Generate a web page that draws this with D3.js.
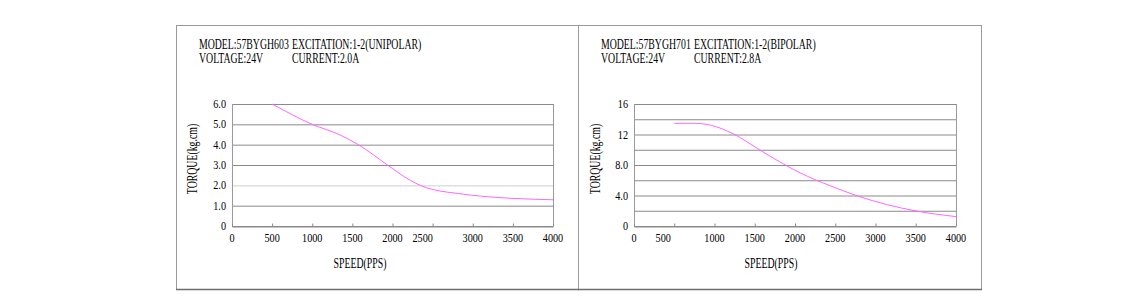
<!DOCTYPE html>
<html>
<head>
<meta charset="utf-8">
<script src="https://cdn.jsdelivr.net/npm/d3@7"></script>
<style>
  html, body { margin: 0; padding: 0; background: #fff; }
  svg { display: block; }
</style>
</head>
<body>
<div id="chart"></div>
<script>
// chart data
const speedTicks = [0, 500, 1000, 1500, 2000, 2500, 3000, 3500, 4000]

const leftSpeed = [500, 1000, 1346, 1574, 1948, 2177, 2364, 2592, 2820, 2970, 3250, 4000]
const leftTorque = [6.0, 5.0, 4.48, 4.0, 2.97, 2.35, 1.97, 1.72, 1.6, 1.52, 1.42, 1.29]
const leftYTicks = [0, 1, 2, 3, 4, 5, 6]
const leftYLabels = ['0', '1.0', '2.0', '3.0', '4.0', '5.0', '6.0']

const rightSpeed = [500, 750, 960, 1231, 1563, 1896, 2248, 2435, 2780, 3490, 4000]
const rightTorque = [13.47, 13.47, 13.2, 12.1, 9.97, 7.9, 6.08, 5.29, 3.93, 2.0, 1.23]
const rightYTicks = [0, 2, 4, 6, 8, 10, 12, 14, 16]
const rightYLabels = ['0', '', '4.0', '', '8.0', '', '12', '', '16']

const panels = [
  {
    box: [176, 25, 402, 264],
    plot: [232, 104, 321, 122],
    yMax: 6,
    yTicks: leftYTicks,
    yLabels: leftYLabels,
    speed: leftSpeed,
    torque: leftTorque,
    head1: ['MODEL:57BYGH603', 'EXCITATION:1-2(UNIPOLAR)'],
    head2: ['VOLTAGE:24V', 'CURRENT:2.0A'],
    headX: [199, 292],
    shifted: { 2500: -10 },
    lightGrid: 2,
    yTitleX: 197,
    xTitleX: 360
  },
  {
    box: [578, 25, 403, 264],
    plot: [634, 104, 322, 122],
    yMax: 16,
    yTicks: rightYTicks,
    yLabels: rightYLabels,
    speed: rightSpeed,
    torque: rightTorque,
    head1: ['MODEL:57BYGH701', 'EXCITATION:1-2(BIPOLAR)'],
    head2: ['VOLTAGE:24V', 'CURRENT:2.8A'],
    headX: [601, 694],
    shifted: { 500: -11 },
    lightGrid: null,
    yTitleX: 600,
    xTitleX: 771
  }
]

const FONT = '"Liberation Serif", "DejaVu Serif", serif'
const CURVE = '#ff66ff'

const svg = d3.select('#chart').append('svg')
  .attr('width', 1142)
  .attr('height', 297)

// condensed text: scale horizontally around its anchor point
function condText(g, x, y, str, size, sx, anchor) {
  return g.append('text')
    .attr('transform', `translate(${x},${y}) scale(${sx},1)`)
    .attr('text-anchor', anchor || 'start')
    .attr('font-family', FONT)
    .attr('font-size', size)
    .attr('fill', '#000')
    .text(str)
}

panels.forEach(p => {
  const g = svg.append('g')
  const [bx, by, bw, bh] = p.box
  const [px, py, pw, ph] = p.plot

  g.append('rect')
    .attr('x', bx + 0.5).attr('y', by + 0.5)
    .attr('width', bw).attr('height', bh)
    .attr('fill', 'none').attr('stroke', '#9a9a9a')
  g.append('line')
    .attr('x1', bx).attr('x2', bx + bw + 1)
    .attr('y1', by + bh + 0.5).attr('y2', by + bh + 0.5)
    .attr('stroke', '#6e6e6e').attr('stroke-width', 1.5)

  condText(g, p.headX[0], 49, p.head1[0], 14, 0.7)
  condText(g, p.headX[1], 49, p.head1[1], 14, 0.7)
  condText(g, p.headX[0], 63, p.head2[0], 14, 0.7)
  condText(g, p.headX[1], 63, p.head2[1], 14, 0.7)

  const x = d3.scaleLinear().domain([0, 4000]).range([px, px + pw])
  const y = d3.scaleLinear().domain([0, p.yMax]).range([py + ph, py])

  // horizontal gridlines
  const grid = g.append('g')
    .attr('transform', `translate(${px},0)`)
    .call(d3.axisLeft(y).tickValues(p.yTicks).tickSize(-pw).tickFormat(''))
  grid.select('.domain').remove()
  grid.selectAll('.tick line')
    .attr('stroke', d => d === p.lightGrid ? '#cfcfcf' : '#8a8a8a')

  // y labels
  p.yTicks.forEach((t, i) => {
    const lbl = p.yLabels[i]
    if (!lbl) return
    condText(g, px - 6, y(t) + 4, lbl, 12, 0.85, 'end')
  })

  // frame
  g.append('line')
    .attr('x1', px + 0.5).attr('x2', px + 0.5)
    .attr('y1', py).attr('y2', py + ph)
    .attr('stroke', '#9a9a9a')
  g.append('line')
    .attr('x1', px + pw + 0.5).attr('x2', px + pw + 0.5)
    .attr('y1', py).attr('y2', py + ph)
    .attr('stroke', '#9a9a9a')

  // x axis with inward ticks
  const xa = g.append('g')
    .attr('transform', `translate(0,${py + ph + 0.5})`)
    .call(d3.axisBottom(x).tickValues(speedTicks).tickSizeInner(-3).tickSizeOuter(0).tickFormat(''))
  xa.select('.domain').attr('stroke', '#8a8a8a')
  xa.selectAll('.tick line').attr('stroke', '#8a8a8a')

  speedTicks.forEach(t => {
    const dx = p.shifted[t] || 0
    condText(g, x(t) + dx, 242, String(t), 12, 0.85, 'middle')
  })

  condText(g, p.xTitleX, 268, 'SPEED(PPS)', 14, 0.7, 'middle')

  g.append('text')
    .attr('transform', `translate(${p.yTitleX},${py + ph / 2 - 6}) rotate(-90) scale(0.7,1)`)
    .attr('text-anchor', 'middle')
    .attr('font-family', FONT)
    .attr('font-size', 14)
    .attr('fill', '#000')
    .text('TORQUE(kg.cm)')

  const line = d3.line()
    .x((d, i) => x(p.speed[i]))
    .y(d => y(d))
    .curve(d3.curveMonotoneX)

  g.append('path')
    .datum(p.torque)
    .attr('d', line)
    .attr('fill', 'none')
    .attr('stroke', CURVE)
    .attr('stroke-width', 1)
})
</script>
</body>
</html>
